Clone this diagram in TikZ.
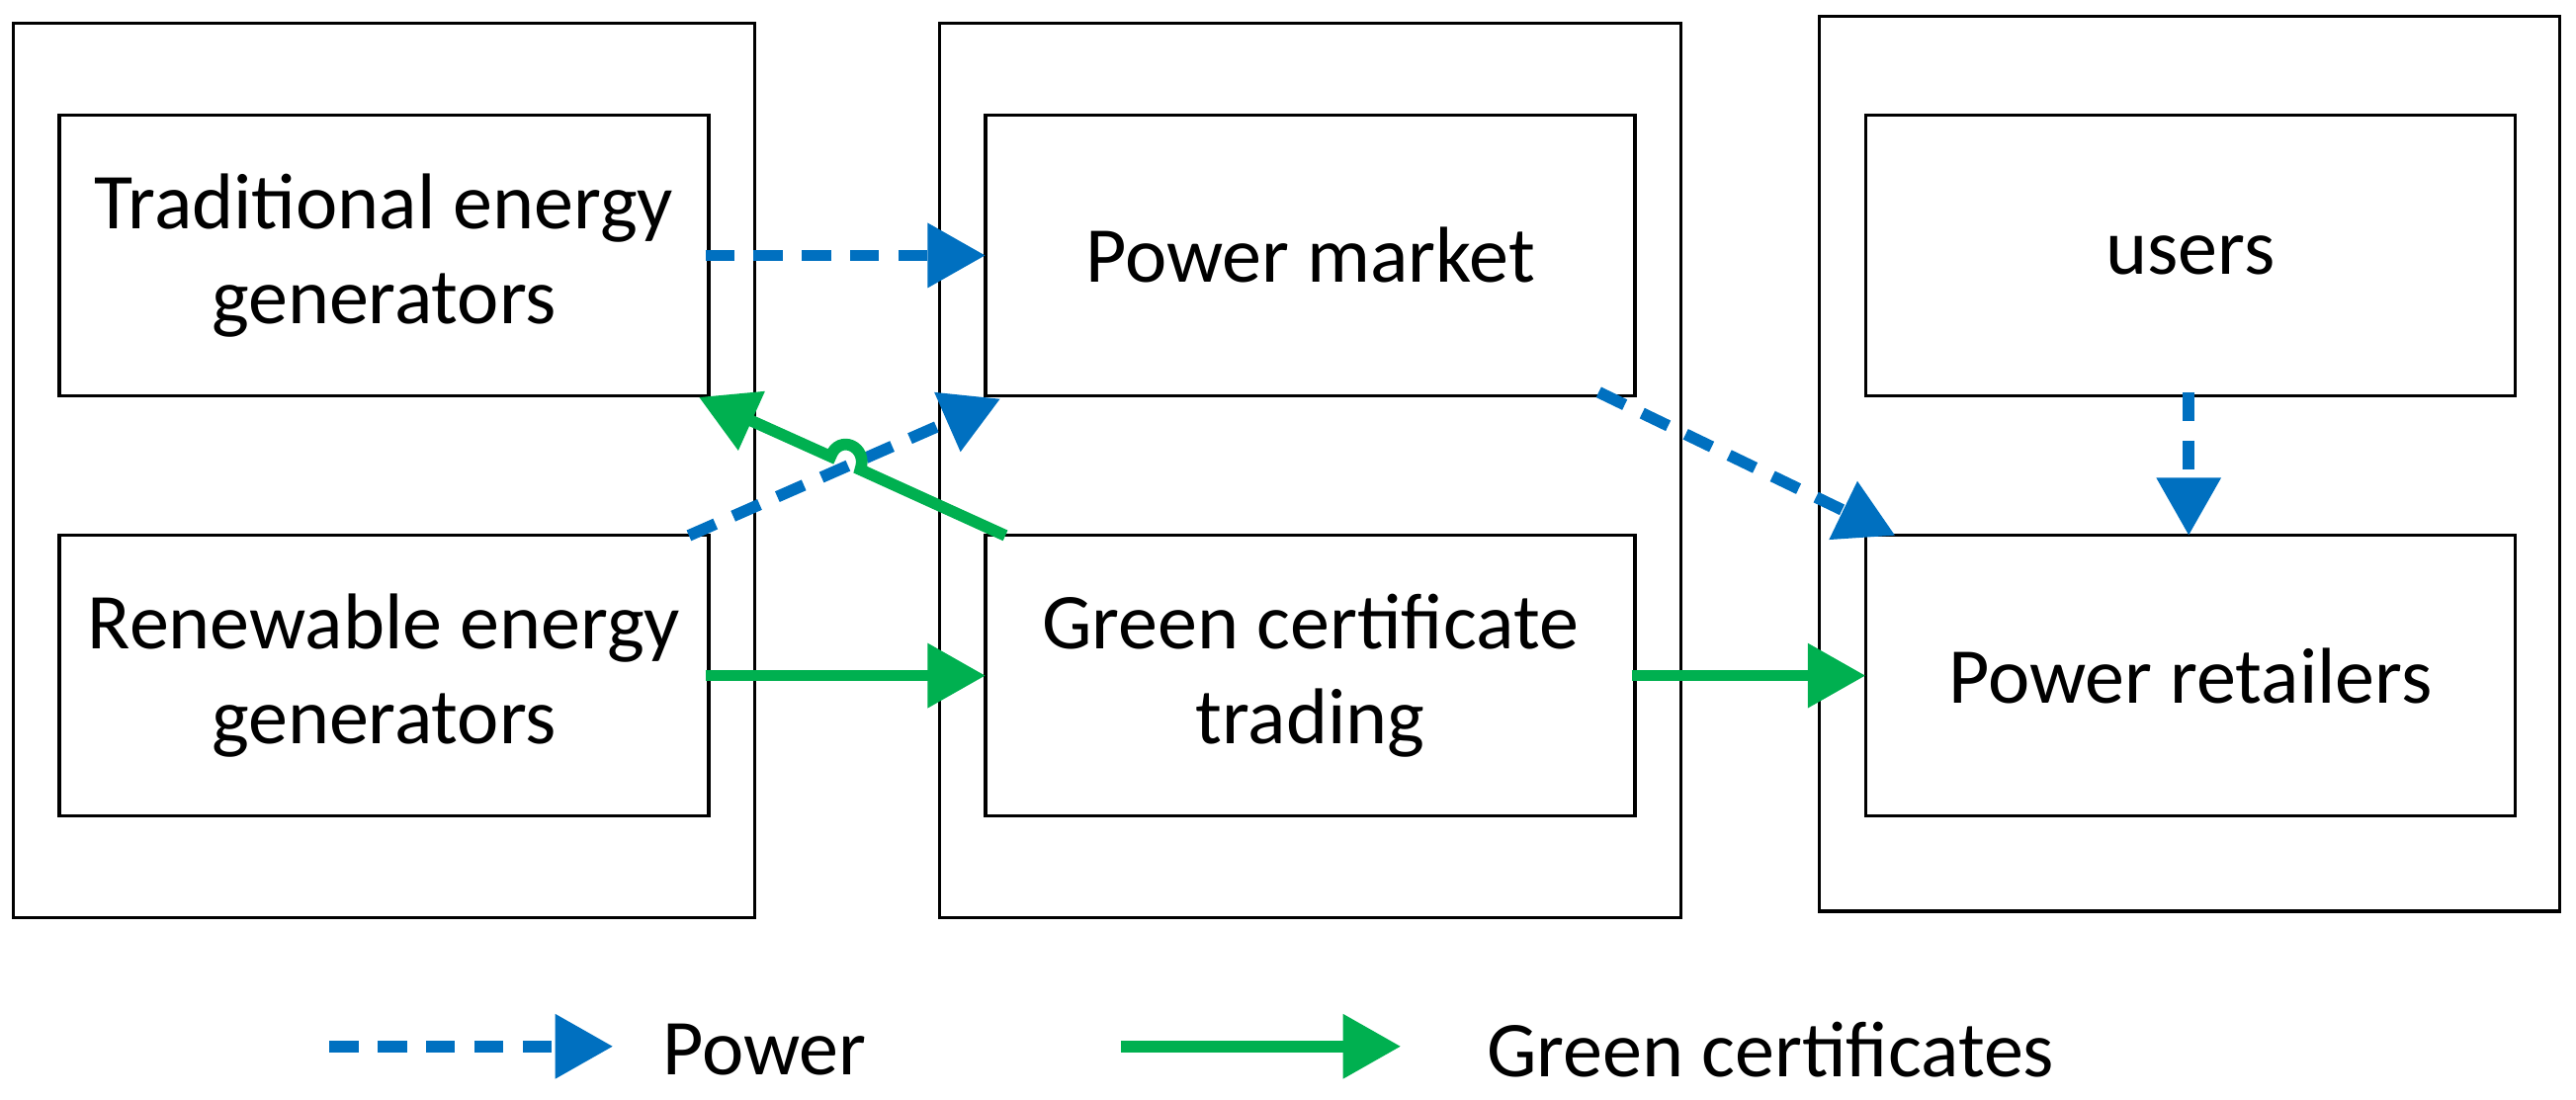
\documentclass[tikz,border=0pt]{standalone}
\usepackage{fontspec}
\setmainfont{Carlito}
\usetikzlibrary{arrows.meta}
\tikzset{
  outer/.style={draw,line width=1.6pt},
  inner/.style={draw,line width=1.6pt,align=center,font=\fontsize{41}{49}\selectfont},
  pow/.style={draw={rgb,255:red,0;green,112;blue,192},line width=6pt,dash pattern=on 15pt off 10pt,
    -{Triangle[length=30pt,width=32pt,fill={rgb,255:red,0;green,112;blue,192}]}},
  cert/.style={draw={rgb,255:red,0;green,176;blue,80},line width=6pt,
    -{Triangle[length=30pt,width=32pt,fill={rgb,255:red,0;green,176;blue,80}]}},
  lab/.style={anchor=west,font=\fontsize{41}{49}\selectfont}
}
\begin{document}
\begin{tikzpicture}[x=0.03cm,y=-0.03cm]
\useasboundingbox (0,0) rectangle (1563,667);
\draw[outer] (8,14) rectangle (458,557);
\draw[outer] (570,14) rectangle (1020,557);
\draw[outer] (1104,10) rectangle (1553,553);
\draw[inner] (36,70) rectangle (430,240) node[midway] (trad) {Traditional energy\\generators};
\draw[inner] (36,325) rectangle (430,495) node[midway] (ren) {Renewable energy\\generators};
\draw[inner] (598,70) rectangle (992,240) node[midway] (pm) {Power market};
\draw[inner] (598,325) rectangle (992,495) node[midway] (gc) {Green certificate\\trading};
\draw[inner] (1132,70) rectangle (1526,240) node[midway] (us) {users};
\draw[inner] (1132,325) rectangle (1526,495) node[midway] (pr) {Power retailers};
% power flows
\coordinate (a1) at (428,155); \coordinate (a2) at (598,155);
\draw[pow] (a1) -- (a2);
\coordinate (b1) at (418,325); \coordinate (b2) at (607,242);
\draw[pow] (b1) -- (b2);
\coordinate (c1) at (970,238); \coordinate (c2) at (1150,325);
\draw[pow] (c1) -- (c2);
\coordinate (d1) at (1328,238); \coordinate (d2) at (1328,325);
\draw[pow] (d1) -- (d2);
% green certificate flows
\coordinate (e1) at (610,325); \coordinate (h1) at (522,285);
\coordinate (h2) at (504,277); \coordinate (e2) at (424,241);
\draw[cert] (e1) -- (h1) .. controls (527,271) and (509,263) .. (h2) -- (e2);
\coordinate (f1) at (428,410); \coordinate (f2) at (598,410);
\draw[cert] (f1) -- (f2);
\coordinate (g1) at (990,410); \coordinate (g2) at (1132,410);
\draw[cert] (g1) -- (g2);
% legend
\coordinate (l1) at (200,635); \coordinate (l2) at (372,635);
\draw[pow] (l1) -- (l2);
\node[lab] (lp) at (398,637) {Power};
\coordinate (m1) at (680,635); \coordinate (m2) at (850,635);
\draw[cert] (m1) -- (m2);
\node[lab] (lg) at (898,637) {Green certificates};
\end{tikzpicture}
\end{document}
